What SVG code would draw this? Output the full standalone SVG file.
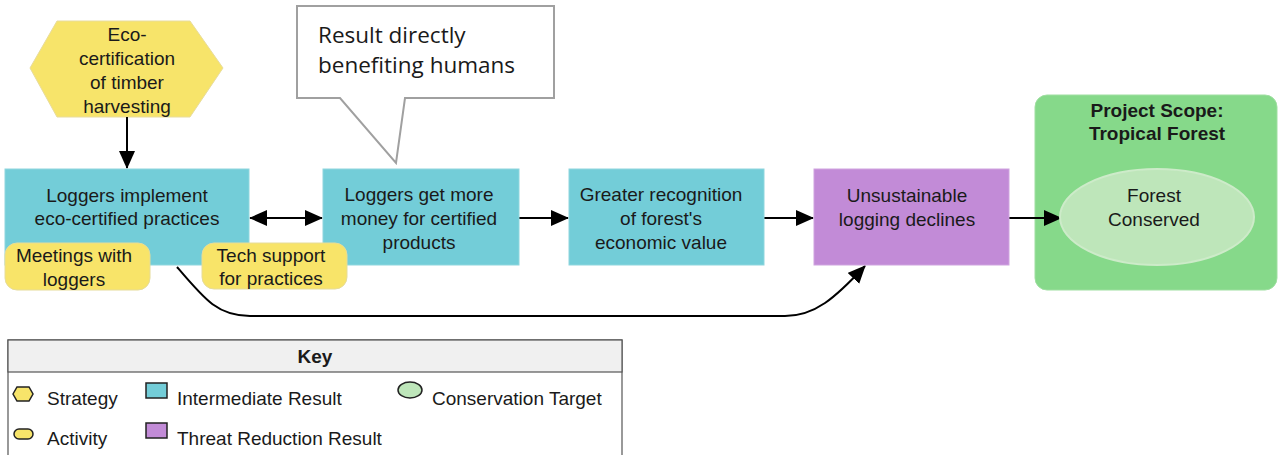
<svg xmlns="http://www.w3.org/2000/svg" width="1278" height="455" viewBox="0 0 1278 455">
<defs>
<style>
.t{font-family:"Liberation Sans",Arial,sans-serif;font-size:19px;fill:#1a1a1a;text-anchor:middle}
.b{font-weight:bold}
.k{font-family:"Liberation Sans",Arial,sans-serif;font-size:19px;fill:#1a1a1a}
.ir{fill:#73cdd8;stroke:#8fd6de;stroke-width:1}
.act{fill:#f8e469;stroke:#e6dc9a;stroke-width:1}
.con{fill:none;stroke:#000;stroke-width:2}
.call{font-family:"Open Sans","Noto Sans",sans-serif;font-size:22.5px;fill:#1a1a1a}
</style>
<marker id="ah" markerUnits="userSpaceOnUse" markerWidth="18" markerHeight="16" refX="17" refY="8" orient="auto-start-reverse">
<path d="M0,0 L18,8 L0,16 Z" fill="#000"/>
</marker>
</defs>
<rect width="1278" height="455" fill="#fff"/>

<g id="callout">
<path d="M297,6 H554 V98 H405 L396,163 L340,98 H297 Z" fill="#fff" stroke="#a0a0a0" stroke-width="2"/>
<text class="call" x="318" y="43">Result directly</text>
<text class="call" x="318" y="73">benefiting humans</text>
</g>

<g id="strategy">
<polygon points="30,68 57,21 190,21 223,68 190,117 57,117" fill="#f7e46a" stroke="#e8dc9c" stroke-width="1"/>
<text class="t" x="127" y="41">Eco-</text>
<text class="t" x="127" y="65">certification</text>
<text class="t" x="127" y="89">of timber</text>
<text class="t" x="127" y="113">harvesting</text>
</g>

<g id="scope">
<rect x="1035" y="95" width="242" height="195" rx="12" fill="#86d98a" stroke="#9fdfa1" stroke-width="1"/>
<text class="t b" x="1157" y="117">Project Scope:</text>
<text class="t b" x="1157" y="140">Tropical Forest</text>
</g>

<g id="connectors">
<line class="con" x1="127" y1="117" x2="127" y2="168" marker-end="url(#ah)"/>
<line class="con" x1="250" y1="218" x2="322" y2="218" marker-start="url(#ah)" marker-end="url(#ah)"/>
<line class="con" x1="519" y1="218" x2="568" y2="218" marker-end="url(#ah)"/>
<line class="con" x1="764" y1="218" x2="813" y2="218" marker-end="url(#ah)"/>
<line class="con" x1="1009" y1="218" x2="1061" y2="218" marker-end="url(#ah)"/>
<path class="con" d="M177,267 C205,300 218,316 250,316 L785,316 C815,316 835,298 865,266" marker-end="url(#ah)"/>
</g>

<g id="ir1">
<rect class="ir" x="5" y="169" width="244" height="96"/>
<text class="t" x="127" y="202">Loggers implement</text>
<text class="t" x="127" y="225">eco-certified practices</text>
</g>

<g id="ir2">
<rect class="ir" x="323" y="169" width="196" height="96"/>
<text class="t" x="419" y="201">Loggers get more</text>
<text class="t" x="419" y="225">money for certified</text>
<text class="t" x="419" y="249">products</text>
</g>

<g id="act1">
<rect class="act" x="5" y="243" width="145" height="47" rx="12"/>
<text class="t" x="74" y="262">Meetings with</text>
<text class="t" x="74" y="286">loggers</text>
</g>

<g id="act2">
<rect class="act" x="202" y="243" width="145" height="46" rx="12"/>
<text class="t" x="271" y="262">Tech support</text>
<text class="t" x="271" y="285">for practices</text>
</g>

<g id="ir3">
<rect class="ir" x="569" y="169" width="195" height="96"/>
<text class="t" x="661" y="201">Greater recognition</text>
<text class="t" x="661" y="225">of forest's</text>
<text class="t" x="661" y="249">economic value</text>
</g>

<g id="trr">
<rect x="814" y="169" width="195" height="96" fill="#c28bd7" stroke="#cfa3df" stroke-width="1"/>
<text class="t" x="907" y="202">Unsustainable</text>
<text class="t" x="907" y="226">logging declines</text>
</g>

<g id="target">
<ellipse cx="1157" cy="217" rx="97" ry="48" fill="#bee6ba" stroke="#cdebc9" stroke-width="2"/>
<text class="t" x="1154" y="202">Forest</text>
<text class="t" x="1154" y="226">Conserved</text>
</g>

<g id="key">
<rect x="8" y="340" width="614" height="125" fill="#fff" stroke="#555" stroke-width="1.2"/>
<rect x="8" y="340" width="614" height="32" fill="#f0f0f0" stroke="#555" stroke-width="1.2"/>
<text class="t b" x="315" y="363">Key</text>
<polygon points="13,394 17,387 29,387 33,394 29,401 17,401" fill="#f7e46a" stroke="#222" stroke-width="1.5"/>
<text class="k" x="47" y="405">Strategy</text>
<rect x="14" y="429" width="19" height="10" rx="5" fill="#f7e46a" stroke="#222" stroke-width="1.5"/>
<text class="k" x="47" y="445">Activity</text>
<rect x="146" y="383" width="21" height="15" fill="#73cdd8" stroke="#222" stroke-width="1.5"/>
<text class="k" x="177" y="405">Intermediate Result</text>
<rect x="146" y="423" width="21" height="15" fill="#c28bd7" stroke="#222" stroke-width="1.5"/>
<text class="k" x="177" y="445">Threat Reduction Result</text>
<ellipse cx="410" cy="390" rx="12" ry="8" fill="#bee6ba" stroke="#222" stroke-width="1.5"/>
<text class="k" x="432" y="405">Conservation Target</text>
</g>
</svg>
